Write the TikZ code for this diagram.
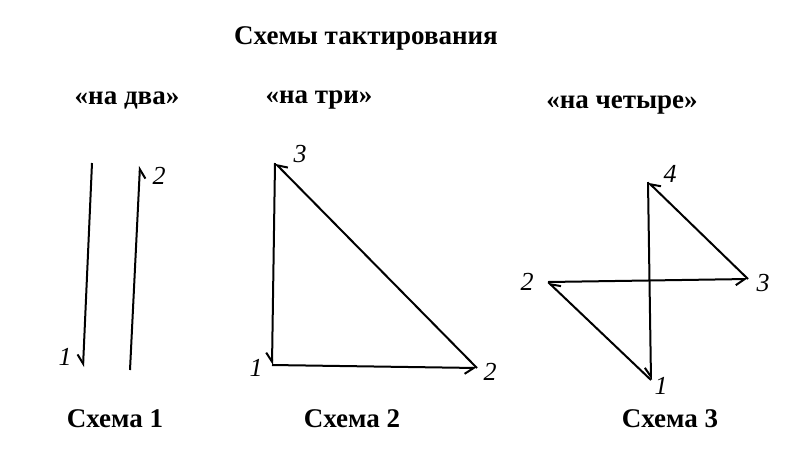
\documentclass[tikz,border=0pt]{standalone}
\usepackage{fontspec}
\setmainfont{Liberation Serif}
\usepackage{tikz}
\usetikzlibrary{arrows.meta}
\tikzset{>={Straight Barb[harpoon,swap,length=9pt,width=12pt]}}
\tikzset{
  caption/.style={font=\bfseries\fontsize{27}{29}\selectfont},
  beat/.style={font=\itshape\fontsize{26}{26}\selectfont},
  stroke/.style={line width=2pt, ->}
}

\begin{document}
\begin{tikzpicture}[x=1pt, y=-1pt]
    \useasboundingbox (0,0) rectangle (800,456);

    \node[caption] (title) at (366,38) {Схемы тактирования};

    \node[caption] (two) at (127,101) {«на два»};
    \node[caption] (three) at (319,100) {«на три»};
    \node[caption] (four) at (622,105) {«на четыре»};

    \node[caption] (s1) at (115,419) {Схема 1};
    \node[caption] (s2) at (352,419) {Схема 2};
    \node[caption] (s3) at (670,419) {Схема 3};

    % na dva
    \coordinate (d1top) at (92,163);
    \coordinate (d1) at (83,367);
    \coordinate (d2bot) at (130,370);
    \coordinate (d2) at (140,166);
    \draw[stroke] (d1top) -- (d1);
    \draw[stroke] (d2bot) -- (d2);
    \node[beat] (d1lab) at (65,357) {1};
    \node[beat] (d2lab) at (159,176) {2};

    % na tri
    \coordinate (t3) at (275,163);
    \coordinate (t1) at (272,365);
    \coordinate (t2) at (477,368);
    \draw[stroke] (t3) -- (t1);
    \draw[stroke] (t1) -- (t2);
    \draw[stroke] (t2) -- (t3);
    \node[beat] (t1lab) at (256,368) {1};
    \node[beat] (t2lab) at (490,372) {2};
    \node[beat] (t3lab) at (300,154) {3};

    % na chetyre
    \coordinate (c4) at (648,182);
    \coordinate (c1) at (651,380);
    \coordinate (c2) at (548,282);
    \coordinate (c3) at (748,279);
    \draw[stroke] (c4) -- (c1);
    \draw[stroke] (c1) -- (c2);
    \draw[stroke] (c2) -- (c3);
    \draw[stroke] (c3) -- (c4);
    \node[beat] (c1lab) at (661,386) {1};
    \node[beat] (c2lab) at (527,282) {2};
    \node[beat] (c3lab) at (763,283) {3};
    \node[beat] (c4lab) at (670,174) {4};
\end{tikzpicture}
\end{document}
